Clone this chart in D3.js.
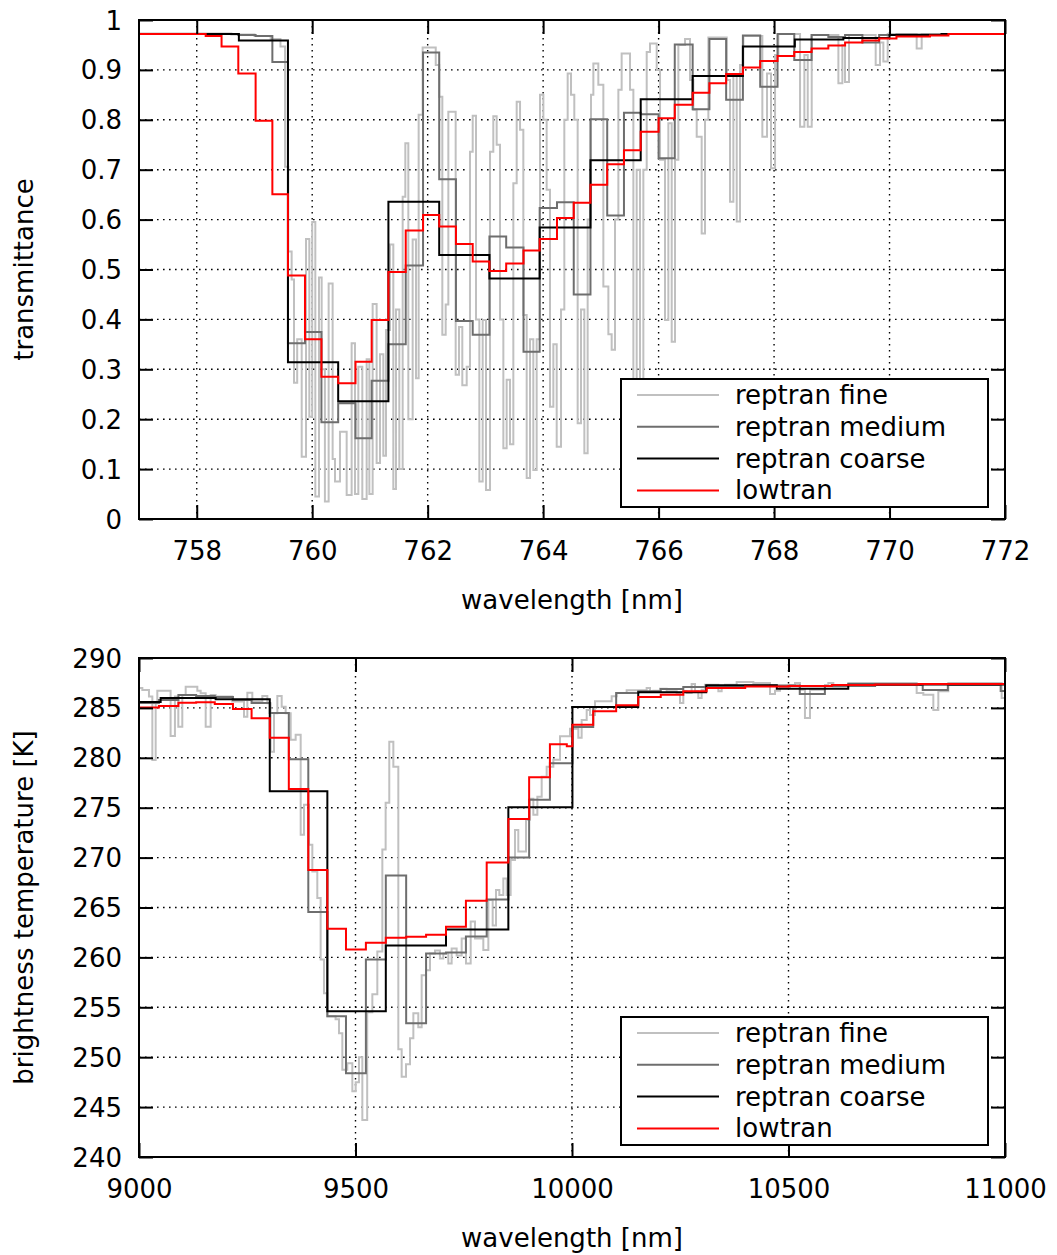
<!DOCTYPE html>
<html><head><meta charset="utf-8">
<script src="https://cdn.jsdelivr.net/npm/d3@7"></script>
<style>
body{margin:0;background:#fff}
svg{display:block}
text{font-family:"DejaVu Sans",Verdana,sans-serif;fill:#000}
</style>
</head><body>
<svg id="chart" width="1057" height="1255"></svg>
<script>
// ---------------- top panel data: transmittance vs wavelength [nm] ----------------
const topXTicks = [758, 760, 762, 764, 766, 768, 770, 772];
const topYTicks = [0, 0.1, 0.2, 0.3, 0.4, 0.5, 0.6, 0.7, 0.8, 0.9, 1];
const topYTickLabels = ["0", "0.1", "0.2", "0.3", "0.4", "0.5", "0.6", "0.7", "0.8", "0.9", "1"];

const topFineWl = [757.0, 758.6, 759.0, 759.28, 759.45, 759.53, 759.586, 759.644, 759.685, 759.74, 759.818, 759.893, 759.95, 760.0, 760.054, 760.118, 760.164, 760.22, 760.285, 760.354, 760.395, 760.481, 760.597, 760.683, 760.741, 760.799, 760.868, 760.943, 760.99, 761.047, 761.116, 761.174, 761.232, 761.278, 761.347, 761.405, 761.451, 761.509, 761.567, 761.613, 761.665, 761.74, 761.798, 761.844, 761.913, 762.14, 762.2, 762.254, 762.312, 762.358, 762.485, 762.543, 762.6, 762.676, 762.733, 762.78, 762.837, 762.895, 762.953, 763.01, 763.08, 763.137, 763.195, 763.253, 763.311, 763.368, 763.426, 763.484, 763.542, 763.6, 763.657, 763.715, 763.773, 763.83, 763.888, 763.946, 764.004, 764.061, 764.119, 764.177, 764.235, 764.31, 764.367, 764.425, 764.483, 764.54, 764.598, 764.656, 764.714, 764.771, 764.829, 764.87, 764.956, 765.043, 765.13, 765.187, 765.245, 765.303, 765.36, 765.505, 765.563, 765.62, 765.678, 765.736, 765.794, 765.851, 765.967, 766.025, 766.111, 766.169, 766.227, 766.284, 766.342, 766.458, 766.544, 766.602, 766.66, 766.746, 766.804, 766.862, 767.18, 767.237, 767.295, 767.353, 767.41, 767.468, 767.797, 767.878, 767.947, 768.017, 768.074, 768.45, 768.525, 768.583, 768.652, 769.114, 769.183, 769.229, 769.298, 769.76, 769.835, 769.893, 769.968, 770.47, 770.557];
const topFineT = [0.973, 0.971, 0.968, 0.962, 0.947, 0.706, 0.536, 0.48, 0.273, 0.36, 0.125, 0.561, 0.205, 0.595, 0.045, 0.484, 0.30, 0.035, 0.472, 0.12, 0.075, 0.175, 0.048, 0.352, 0.05, 0.305, 0.04, 0.32, 0.05, 0.431, 0.112, 0.33, 0.127, 0.379, 0.55, 0.06, 0.42, 0.10, 0.646, 0.753, 0.20, 0.56, 0.282, 0.81, 0.945, 0.91, 0.846, 0.369, 0.43, 0.816, 0.289, 0.385, 0.268, 0.305, 0.736, 0.808, 0.40, 0.075, 0.399, 0.058, 0.736, 0.807, 0.75, 0.40, 0.142, 0.279, 0.15, 0.673, 0.836, 0.78, 0.409, 0.082, 0.36, 0.098, 0.36, 0.85, 0.80, 0.66, 0.225, 0.35, 0.145, 0.42, 0.80, 0.893, 0.85, 0.80, 0.192, 0.42, 0.132, 0.60, 0.85, 0.913, 0.87, 0.466, 0.37, 0.339, 0.60, 0.86, 0.933, 0.86, 0.268, 0.70, 0.252, 0.70, 0.936, 0.953, 0.90, 0.72, 0.399, 0.793, 0.355, 0.72, 0.95, 0.962, 0.88, 0.82, 0.766, 0.572, 0.80, 0.965, 0.88, 0.636, 0.89, 0.596, 0.91, 0.968, 0.766, 0.893, 0.703, 0.93, 0.972, 0.786, 0.93, 0.786, 0.970, 0.873, 0.95, 0.876, 0.970, 0.91, 0.955, 0.917, 0.972, 0.943, 0.972];

const topMediumWl = [757.0, 758.72, 759.02, 759.31, 759.58, 759.875, 760.16, 760.45, 760.75, 761.03, 761.32, 761.62, 761.92, 762.2, 762.49, 762.78, 763.07, 763.36, 763.66, 763.94, 764.24, 764.53, 764.82, 765.11, 765.4, 765.69, 766.0, 766.28, 766.59, 766.88, 767.17, 767.46, 767.76, 768.06, 768.35, 768.65, 768.94, 769.23, 769.53, 769.82, 770.12, 771.0];
const topMediumT = [0.972, 0.970, 0.968, 0.916, 0.352, 0.375, 0.194, 0.232, 0.162, 0.277, 0.350, 0.508, 0.935, 0.681, 0.397, 0.369, 0.566, 0.544, 0.335, 0.623, 0.635, 0.450, 0.801, 0.608, 0.814, 0.811, 0.723, 0.951, 0.821, 0.962, 0.840, 0.969, 0.866, 0.972, 0.920, 0.970, 0.966, 0.970, 0.955, 0.970, 0.971, 0.972];

const topCoarseWl = [757.0, 758.73, 759.58, 760.45, 761.32, 762.2, 763.07, 763.94, 764.82, 765.69, 766.59, 767.46, 768.36, 769.2, 770.0, 770.9];
const topCoarseT = [0.972, 0.959, 0.314, 0.236, 0.636, 0.529, 0.482, 0.584, 0.719, 0.841, 0.888, 0.947, 0.961, 0.964, 0.970, 0.972];

const topLowtranWl = [757.0, 758.155, 758.43, 758.72, 759.02, 759.31, 759.58, 759.875, 760.16, 760.45, 760.75, 761.03, 761.32, 761.62, 761.92, 762.2, 762.49, 762.78, 763.07, 763.36, 763.66, 763.94, 764.24, 764.53, 764.82, 765.11, 765.4, 765.69, 766.0, 766.28, 766.59, 766.88, 767.17, 767.46, 767.76, 768.06, 768.35, 768.65, 768.94, 769.23, 769.53, 769.82, 770.12, 770.7, 771.02];
const topLowtranT = [0.972, 0.968, 0.947, 0.893, 0.798, 0.651, 0.488, 0.360, 0.285, 0.272, 0.315, 0.399, 0.495, 0.578, 0.609, 0.586, 0.551, 0.516, 0.497, 0.512, 0.538, 0.561, 0.603, 0.634, 0.670, 0.711, 0.739, 0.776, 0.803, 0.830, 0.854, 0.873, 0.892, 0.905, 0.918, 0.928, 0.936, 0.943, 0.949, 0.955, 0.959, 0.963, 0.967, 0.969, 0.972];

// ---------------- bottom panel data: brightness temperature [K] vs wavelength [nm] ----------------
const botXTicks = [9000, 9500, 10000, 10500, 11000];
const botYTicks = [240, 245, 250, 255, 260, 265, 270, 275, 280, 285, 290];

const botFineWl = [8990, 9007.7, 9023, 9030.8, 9038.5, 9042.3, 9073, 9083, 9090.8, 9100, 9107.8, 9134.7, 9142.4, 9154, 9165.5, 9177, 9215.5, 9242.5, 9250.2, 9261.7, 9284.8, 9296.4, 9304, 9311.8, 9319.5, 9329.5, 9338.7, 9350.3, 9361.8, 9373.4, 9381, 9392.6, 9400.3, 9411.8, 9419.5, 9427.2, 9435, 9454, 9461.9, 9469.6, 9481, 9492.7, 9500.4, 9508, 9515.8, 9527, 9538.9, 9550.4, 9562, 9569.6, 9578, 9587.4, 9598.9, 9606.6, 9616.6, 9625.9, 9633.6, 9645, 9652.8, 9662.8, 9672, 9683.6, 9695, 9702.8, 9714.4, 9722, 9733.6, 9745.2, 9755.2, 9766, 9776, 9795.2, 9806.8, 9816.8, 9824.5, 9832.2, 9841.4, 9849.1, 9858.3, 9868.3, 9876, 9893.8, 9903, 9910.7, 9920, 9930, 9941.5, 9956.9, 9972.3, 9995.4, 10014.6, 10022.3, 10033.9, 10041.6, 10053.1, 10091.6, 10103.1, 10126.2, 10172.4, 10180.1, 10187.8, 10203.2, 10218.6, 10241.7, 10249.4, 10257.1, 10264.8, 10276.3, 10284, 10291.7, 10299.4, 10307, 10338, 10345.6, 10353.3, 10380.3, 10418.8, 10457.3, 10468.8, 10480.4, 10503.4, 10515, 10526.5, 10538, 10549.6, 10584.3, 10592, 10603.5, 10638.2, 10796, 10811.4, 10834.5, 10846, 10869.1, 10992.3];
const botFineT = [287.0, 286.8, 286.13, 279.78, 285.46, 286.73, 282.18, 286.13, 283.1, 286.3, 287.13, 286.73, 286.46, 283.1, 286.3, 286.13, 285.63, 284.12, 286.53, 285.63, 286.19, 285.46, 280.6, 284.46, 286.19, 285.12, 284.46, 281.8, 282.3, 272.3, 275.3, 271.3, 268.6, 265.95, 259.8, 256.4, 254.1, 253.8, 252.4, 248.75, 249.4, 246.6, 247.5, 250.0, 243.7, 254.5, 256.3, 260.6, 270.8, 275.5, 281.6, 279.1, 250.8, 248.05, 249.3, 251.9, 254.4, 253.0, 258.2, 258.7, 260.4, 260.7, 259.9, 260.4, 259.4, 260.9, 260.2, 261.9, 259.4, 263.6, 261.9, 260.75, 265.75, 263.2, 266.75, 266.25, 267.9, 266.25, 269.76, 272.77, 270.6, 273.8, 275.9, 274.3, 276.1, 278.1, 279.1, 279.8, 282.15, 282.9, 282.0, 283.8, 284.8, 284.3, 285.66, 286.16, 286.5, 286.76, 287.0, 286.66, 286.73, 286.93, 286.66, 286.5, 285.5, 286.66, 286.5, 287.4, 286.66, 286.0, 286.83, 287.33, 286.66, 287.0, 287.33, 287.6, 287.5, 286.4, 286.73, 287.0, 287.3, 287.5, 286.83, 284.0, 286.83, 287.3, 287.5, 287.16, 287.5, 286.5, 286.33, 284.8, 286.66, 287.5, 286.0];

const botMediumWl = [9000, 9046, 9091, 9132, 9175, 9217, 9260, 9302, 9346, 9391, 9435, 9478, 9524, 9570, 9617, 9663, 9709, 9755, 9803, 9853, 9901, 9949, 10001, 10049, 10102, 10153, 10205, 10257, 10311, 10400, 10526, 10584, 10700, 10810, 10868, 10990];
const botMediumT = [285.5, 285.8, 286.3, 286.2, 286.1, 285.8, 285.5, 284.5, 279.85, 264.55, 254.1, 248.4, 259.8, 268.2, 253.4, 260.4, 260.5, 262.1, 265.8, 270.0, 275.8, 279.45, 283.09, 285.09, 286.49, 286.66, 286.9, 287.1, 287.2, 287.25, 286.4, 287.2, 287.3, 286.8, 287.3, 286.7];

const botCoarseWl = [9000, 9050, 9177, 9302, 9435, 9570, 9709, 9853, 10001, 10153, 10310, 10473, 10638];
const botCoarseT = [285.6, 286.0, 285.86, 276.64, 254.6, 261.2, 262.8, 275.04, 285.09, 286.56, 287.26, 286.93, 287.35];

const botLowtranWl = [9000, 9046, 9091, 9132, 9175, 9217, 9260, 9302, 9346, 9391, 9435, 9478, 9524, 9570, 9617, 9663, 9709, 9755, 9803, 9853, 9901, 9949, 9988, 10001, 10049, 10102, 10153, 10205, 10257, 10311, 10400, 10500, 10600, 10700, 10800];
const botLowtranT = [285.05, 285.19, 285.52, 285.56, 285.39, 284.89, 283.96, 282.02, 276.87, 268.76, 262.88, 260.8, 261.48, 261.98, 262.08, 262.28, 263.08, 265.68, 269.5, 273.87, 278.04, 281.35, 281.15, 283.32, 284.66, 285.26, 286.1, 286.33, 286.66, 287.0, 287.15, 287.2, 287.3, 287.35, 287.4];

const legendLabels = ["reptran fine", "reptran medium", "reptran coarse", "lowtran"];
const seriesColors = ["#c0c0c0", "#6e6e6e", "#000000", "#ff0000"];

// ---------------- drawing ----------------
const svg = d3.select("#chart");
const FONT = 26;

function drawPanel(cfg) {
  const g = svg.append("g");
  const x = d3.scaleLinear().domain(cfg.xDomain).range([cfg.left, cfg.right]);
  const y = d3.scaleLinear().domain(cfg.yDomain).range([cfg.bottom, cfg.top]);
  const clipId = "clip" + cfg.id;
  svg.append("defs").append("clipPath").attr("id", clipId)
    .append("rect").attr("x", cfg.left).attr("y", cfg.top)
    .attr("width", cfg.right - cfg.left).attr("height", cfg.bottom - cfg.top);

  // grid
  const grid = g.append("g").attr("stroke", "#000").attr("stroke-width", 1.4)
    .attr("stroke-dasharray", "1.6,4.4").attr("fill", "none");
  cfg.xTicks.forEach(t => {
    const px = x(t);
    if (px > cfg.left + 1 && px < cfg.right - 1)
      grid.append("line").attr("x1", px).attr("x2", px).attr("y1", cfg.top).attr("y2", cfg.bottom);
  });
  cfg.yTicks.forEach(t => {
    const py = y(t);
    if (py > cfg.top + 1 && py < cfg.bottom - 1)
      grid.append("line").attr("x1", cfg.left).attr("x2", cfg.right).attr("y1", py).attr("y2", py);
  });

  // series
  const lineGen = d3.line().x(d => x(d[0])).y(d => y(d[1])).curve(d3.curveStepAfter);
  const sg = g.append("g").attr("clip-path", `url(#${clipId})`);
  cfg.series.forEach((s, i) => {
    const pts = s.xs.map((v, k) => [v, s.ys[k]]);
    pts.push([cfg.xDomain[1] + 1, s.ys[s.ys.length - 1]]);
    sg.append("path").attr("d", lineGen(pts)).attr("fill", "none")
      .attr("stroke", seriesColors[i]).attr("stroke-width", 2)
      .attr("stroke-linejoin", "miter");
  });

  // axes via d3 axes (inward ticks) on all four sides
  const TL = 14;
  const axB = d3.axisBottom(x).tickValues(cfg.xTicks).tickSizeInner(-TL).tickSizeOuter(0).tickFormat(cfg.xFmt);
  const axT = d3.axisTop(x).tickValues(cfg.xTicks).tickSizeInner(-TL).tickSizeOuter(0).tickFormat("");
  const axL = d3.axisLeft(y).tickValues(cfg.yTicks).tickSizeInner(-TL).tickSizeOuter(0).tickFormat(cfg.yFmt);
  const axR = d3.axisRight(y).tickValues(cfg.yTicks).tickSizeInner(-TL).tickSizeOuter(0).tickFormat("");
  const styleAxis = sel => {
    sel.select(".domain").remove();
    sel.selectAll(".tick line").attr("stroke", "#000").attr("stroke-width", 2);
    sel.selectAll(".tick text").attr("font-size", FONT).attr("font-family", "DejaVu Sans");
  };
  g.append("g").attr("transform", `translate(0,${cfg.bottom})`).call(axB).call(styleAxis)
    .selectAll(".tick text").attr("dy", null).attr("y", 32).attr("dominant-baseline", "central");
  g.append("g").attr("transform", `translate(0,${cfg.top})`).call(axT).call(styleAxis);
  g.append("g").attr("transform", `translate(${cfg.left},0)`).call(axL).call(styleAxis)
    .selectAll(".tick text").attr("dy", null).attr("x", -17).attr("dominant-baseline", "central");
  g.append("g").attr("transform", `translate(${cfg.right},0)`).call(axR).call(styleAxis);

  // border
  g.append("rect").attr("x", cfg.left).attr("y", cfg.top)
    .attr("width", cfg.right - cfg.left).attr("height", cfg.bottom - cfg.top)
    .attr("fill", "none").attr("stroke", "#000").attr("stroke-width", 2);

  // axis titles
  g.append("text").attr("x", (cfg.left + cfg.right) / 2).attr("y", cfg.bottom + 81)
    .attr("text-anchor", "middle").attr("dominant-baseline", "central")
    .attr("font-size", FONT).text(cfg.xTitle);
  g.append("text").attr("transform", `translate(24,${(cfg.top + cfg.bottom) / 2}) rotate(-90)`)
    .attr("text-anchor", "middle").attr("dominant-baseline", "central")
    .attr("font-size", FONT).text(cfg.yTitle);

  // legend
  const lg = g.append("g");
  lg.append("rect").attr("x", 621).attr("y", cfg.legendTop)
    .attr("width", 367).attr("height", 128).attr("fill", "#fff")
    .attr("stroke", "#000").attr("stroke-width", 2);
  legendLabels.forEach((lab, i) => {
    const ly = cfg.legendTop + 16 + i * 31.8;
    lg.append("line").attr("x1", 637).attr("x2", 719).attr("y1", ly).attr("y2", ly)
      .attr("stroke", seriesColors[i]).attr("stroke-width", 2);
    lg.append("text").attr("x", 735).attr("y", ly).attr("dominant-baseline", "central")
      .attr("font-size", FONT).text(lab);
  });
}

drawPanel({
  id: "top", left: 139, right: 1005, top: 20, bottom: 519,
  xDomain: [757, 772], yDomain: [0, 1],
  xTicks: topXTicks, yTicks: topYTicks,
  xFmt: d => String(d), yFmt: (d, i) => topYTickLabels[i],
  xTitle: "wavelength [nm]", yTitle: "transmittance",
  legendTop: 379,
  series: [
    {xs: topFineWl, ys: topFineT},
    {xs: topMediumWl, ys: topMediumT},
    {xs: topCoarseWl, ys: topCoarseT},
    {xs: topLowtranWl, ys: topLowtranT}
  ]
});

drawPanel({
  id: "bot", left: 139, right: 1005, top: 658, bottom: 1157,
  xDomain: [9000, 11000], yDomain: [240, 290],
  xTicks: botXTicks, yTicks: botYTicks,
  xFmt: d => String(d), yFmt: d => String(d),
  xTitle: "wavelength [nm]", yTitle: "brightness temperature [K]",
  legendTop: 1017,
  series: [
    {xs: botFineWl, ys: botFineT},
    {xs: botMediumWl, ys: botMediumT},
    {xs: botCoarseWl, ys: botCoarseT},
    {xs: botLowtranWl, ys: botLowtranT}
  ]
});
</script>
</body></html>
